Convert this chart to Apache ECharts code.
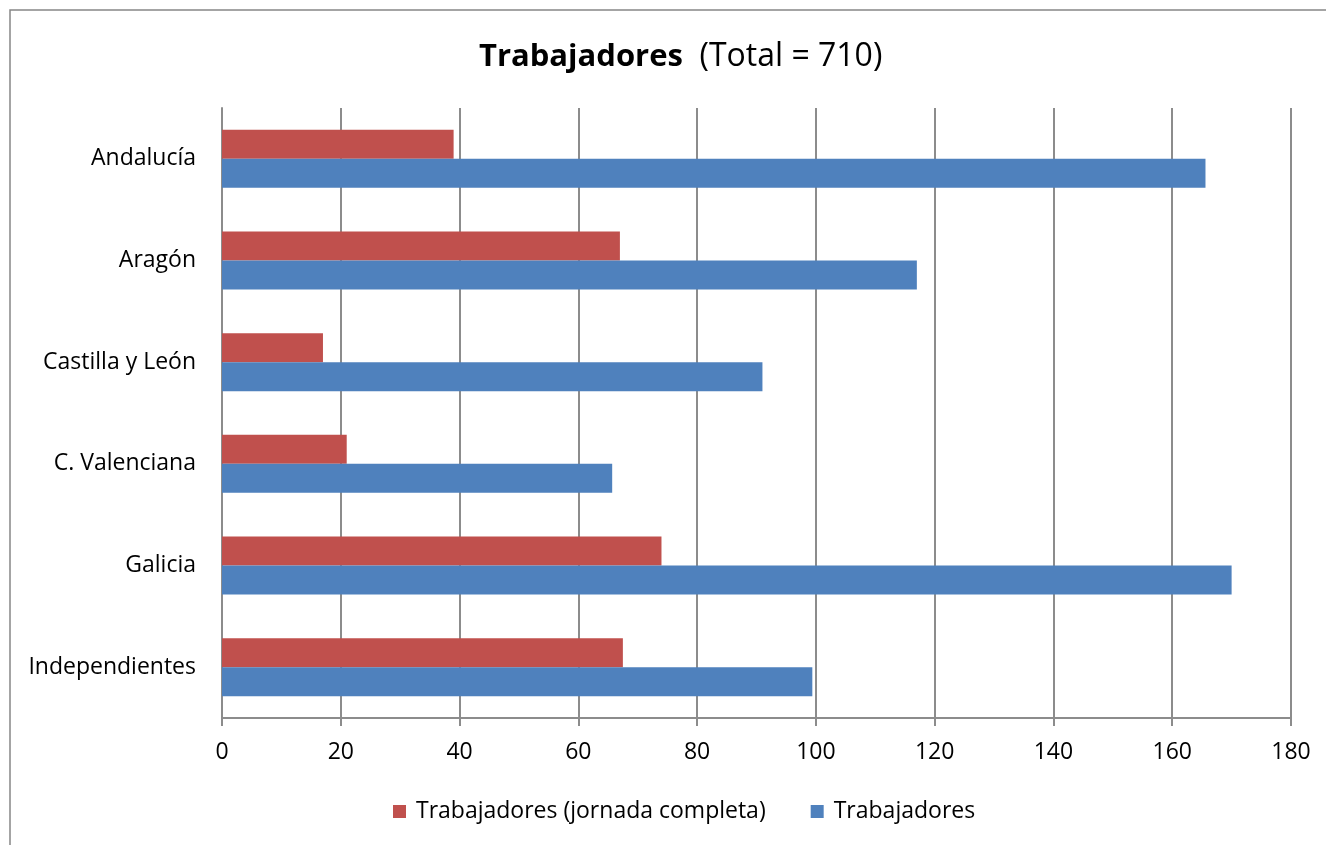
<!DOCTYPE html>
<html>
<head>
<meta charset="utf-8">
<script src="https://cdn.jsdelivr.net/npm/echarts@6/dist/echarts.min.js"></script>
<style>
  html, body { margin: 0; padding: 0; background: #fff; }
  #chart { width: 1326px; height: 845px; }
</style>
</head>
<body>
<div id="chart"></div>
<script>
// datos
var regiones = ['Andalucía', 'Aragón', 'Castilla y León', 'C. Valenciana', 'Galicia', 'Independientes'];
var jornadaCompleta = [39, 67, 17, 21, 74, 67.5];
var trabajadores = [165.6, 117, 91, 65.7, 170, 99.4];
var ticksX = [0, 20, 40, 60, 80, 100, 120, 140, 160, 180];

(function(){
	var myChart = echarts.init(document.getElementById('chart'));
	var fuente = 'Open Sans';
	var option = {
		animation: false,
		title: {
			text: '{b|Trabajadores}{r|  (Total = 710)}',
			left: 474,
			top: 36,
			textStyle: {
				rich: {
					b: { fontFamily: fuente, fontSize: 31, fontWeight: 'bold', color: '#000' },
					r: { fontFamily: fuente, fontSize: 32, fontWeight: 'normal', color: '#000' }
				}
			}
		},
		legend: {
			data: ['Trabajadores (jornada completa)', 'Trabajadores'],
			left: 388,
			top: 795,
			itemWidth: 13,
			itemHeight: 13,
			itemGap: 45,
			icon: 'rect',
			textStyle: { fontFamily: fuente, fontSize: 23, color: '#000', padding: [0, 0, 0, 5] }
		},
		graphic: [{
			type: 'rect',
			shape: { x: 10, y: 10, width: 1400, height: 900 },
			style: { fill: 'none', stroke: '#868686', lineWidth: 1.5 },
			silent: true
		}],
		grid: { left: 222, right: 35, top: 108, bottom: 127 },
		xAxis: {
			type: 'value',
			min: 0,
			max: 180,
			interval: 20,
			axisLine: { show: true, lineStyle: { color: '#8c8c8c', width: 2 } },
			axisTick: { show: true, length: 8, lineStyle: { color: '#8c8c8c', width: 2 } },
			axisLabel: {
				margin: 23,
				fontFamily: fuente, fontSize: 23, color: '#000',
				formatter: function (v) { return ticksX.indexOf(v) >= 0 ? String(v) : ''; }
			},
			splitLine: { show: true, lineStyle: { color: '#8c8c8c', width: 2 } }
		},
		yAxis: {
			type: 'category',
			inverse: true,
			data: regiones,
			axisLine: { show: true, lineStyle: { color: '#8c8c8c', width: 2 } },
			axisTick: { show: false },
			axisLabel: { margin: 26, fontFamily: fuente, fontSize: 23, color: '#000' }
		},
		series: [
			{
				name: 'Trabajadores (jornada completa)',
				type: 'bar',
				barWidth: 29,
				barGap: '0%',
				itemStyle: { color: '#C0504D' },
				data: jornadaCompleta
			},
			{
				name: 'Trabajadores',
				type: 'bar',
				barWidth: 29,
				barGap: '0%',
				itemStyle: { color: '#4F81BD' },
				data: trabajadores
			}
		]
	};
	myChart.setOption(option);
})();
</script>
</body>
</html>
